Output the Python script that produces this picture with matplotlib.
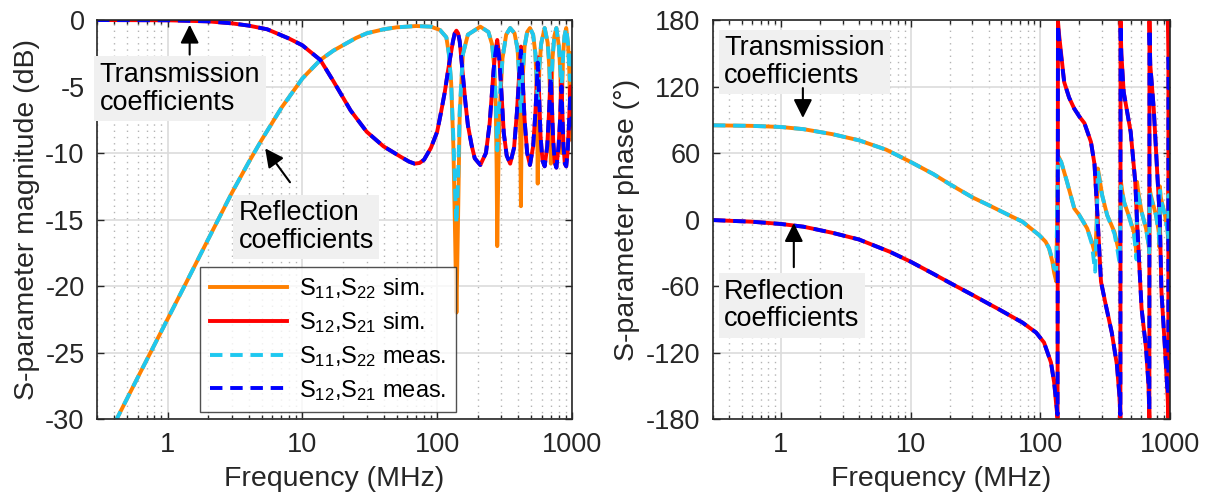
import numpy as np
import matplotlib
matplotlib.use('Agg')
import matplotlib.pyplot as plt
from matplotlib.ticker import FixedLocator, NullFormatter, LogLocator

plt.rcParams['font.family'] = ['Liberation Sans', 'DejaVu Sans']
plt.rcParams['mathtext.fontset'] = 'custom'
plt.rcParams['mathtext.rm'] = 'Liberation Sans'
plt.rcParams['mathtext.it'] = 'Liberation Sans'
plt.rcParams['axes.unicode_minus'] = False

# ---- magnitude, reflection (S11, S22) ----
f_refl_mag = [0.3, 0.42, 0.6, 1.0, 1.5, 2.0, 3.0, 4.0, 5.0, 7.0, 10, 13.6, 17, 20, 25, 30, 40,
              50, 70, 90, 105, 117, 122, 127, 132, 136, 139, 143, 147, 155, 169, 209, 240, 255,
              265, 272, 276, 279, 284, 290, 305, 325, 348, 375, 395, 405, 412, 418, 423, 430,
              445, 465, 488, 515, 535, 547, 553, 557, 562, 572, 590, 627, 660, 678, 690, 697,
              704, 718, 740, 766, 800, 820, 830, 836, 843, 860, 880, 906, 935, 955, 967, 975,
              983, 1000]
s11_mag_sim = [-33.0, -30.0, -26.9, -22.5, -19.0, -16.5, -13.0, -10.7, -9.0, -6.6, -4.4, -3.0,
               -2.3, -1.9, -1.35, -1.0, -0.7, -0.55, -0.45, -0.5, -0.75, -1.3, -2.5, -4.7,
               -9.6, -16.5, -22.0, -14.7, -7.1, -2.6, -1.1, -0.5, -0.9, -1.8, -3.5, -6.5,
               -10.9, -17.0, -11.5, -7.1, -2.9, -1.1, -0.6, -1.0, -2.2, -4.2, -7.5, -14.0,
               -8.5, -4.5, -2.0, -0.9, -0.6, -1.1, -2.5, -5.0, -8.0, -12.3, -7.5, -3.8, -1.8,
               -0.6, -1.7, -3.5, -6.5, -10.8, -6.0, -2.8, -1.2, -0.6, -2.0, -4.0, -7.0, -10.0,
               -6.0, -2.5, -1.2, -0.6, -1.8, -3.8, -6.5, -9.0, -5.5, -2.5]
s11_mag_meas = [-33.0, -30.0, -26.9, -22.5, -19.0, -16.5, -13.0, -10.7, -9.0, -6.6, -4.4, -3.0,
                -2.3, -1.9, -1.35, -1.0, -0.7, -0.55, -0.45, -0.5, -0.75, -1.3, -2.5, -4.7,
                -9.0, -13.0, -15.3, -12.0, -6.8, -2.6, -1.1, -0.5, -0.9, -1.8, -3.4, -6.0,
                -8.5, -9.8, -8.0, -6.0, -2.9, -1.1, -0.6, -1.0, -2.2, -4.0, -6.0, -7.0, -6.0,
                -4.0, -2.0, -0.9, -0.6, -1.1, -2.5, -4.3, -5.5, -6.0, -5.5, -3.5, -1.8, -0.6,
                -1.7, -3.2, -5.0, -5.2, -4.8, -2.8, -1.2, -0.6, -2.0, -3.7, -4.8, -4.8, -4.5,
                -2.5, -1.2, -0.6, -1.8, -3.5, -4.5, -4.5, -4.0, -2.5]

# ---- magnitude, transmission (S12, S21) ----
f_trans_mag = [0.3, 1, 2, 3, 4, 5.5, 8, 10, 13.6, 17, 22.8, 30, 40, 54, 62, 68, 74, 80, 90, 100,
               107, 114, 120, 126, 131, 135, 139, 143, 147, 155, 162, 169, 180, 190, 209, 230,
               245, 253, 262, 270, 279, 288, 298, 312, 328, 348, 372, 390, 405, 418, 430, 445,
               465, 488, 515, 535, 548, 557, 568, 585, 605, 627, 655, 675, 688, 697, 708, 725,
               745, 766, 795, 815, 828, 836, 846, 865, 885, 906, 930, 950, 965, 975, 985, 1000]
s21_mag_sim = [0.0, -0.02, -0.1, -0.25, -0.42, -0.7, -1.4, -1.9, -3.0, -4.6, -6.8, -8.4, -9.5,
               -10.3, -10.65, -10.8, -10.75, -10.5, -9.6, -8.4, -6.9, -5.4, -3.9, -2.6, -1.6,
               -1.0, -0.8, -1.0, -1.6, -4.1, -6.2, -7.9, -9.4, -10.4, -10.9, -10.0, -7.8, -5.9,
               -3.8, -2.4, -1.5, -2.6, -5.0, -8.5, -10.2, -10.8, -9.6, -7.0, -4.2, -2.0, -4.2,
               -7.5, -10.0, -10.9, -9.5, -7.0, -4.8, -2.8, -5.0, -8.8, -10.6, -11.0, -9.5,
               -7.0, -5.0, -3.8, -6.0, -9.0, -10.7, -11.1, -9.5, -7.5, -5.5, -4.5, -6.5, -9.5,
               -10.8, -11.0, -9.8, -7.8, -6.0, -5.0, -6.5, -8.0]
s21_mag_meas = [0.0, -0.02, -0.1, -0.25, -0.42, -0.7, -1.4, -1.9, -3.0, -4.6, -6.8, -8.4, -9.5,
                -10.3, -10.65, -10.8, -10.75, -10.5, -9.6, -8.4, -6.9, -5.4, -3.9, -2.6, -1.6,
                -1.0, -0.8, -1.0, -1.6, -4.1, -6.2, -7.9, -9.4, -10.4, -10.9, -10.0, -7.8,
                -5.9, -3.8, -2.5, -1.7, -2.8, -5.0, -8.5, -10.2, -10.8, -9.6, -7.0, -4.4, -2.3,
                -4.4, -7.5, -10.0, -10.9, -9.5, -7.0, -5.0, -3.2, -5.2, -8.8, -10.6, -11.0,
                -9.5, -7.0, -5.3, -4.3, -6.3, -9.0, -10.7, -11.1, -9.5, -7.6, -5.8, -5.0, -6.8,
                -9.5, -10.8, -11.0, -9.8, -7.8, -6.3, -5.5, -6.8, -8.0]

# ---- phase, reflection (S11, S22) ----
f_refl_ph = [0.3, 0.6, 1, 1.5, 2.5, 4, 6.5, 10, 15, 20, 30, 40, 55, 73, 98, 110, 117, 124, 128,
             133, 137, 145, 160, 183, 200, 230, 250, 265, 272, 278, 286, 300, 328, 374, 395,
             410, 414, 418, 428, 445, 480, 528, 545, 553, 557, 570, 604, 654, 683, 692, 697,
             712, 780, 820, 830, 836, 850, 915, 960, 970, 975, 985, 1000]
s11_ph_sim = [85.0, 84.5, 83.5, 81.5, 77.0, 71.5, 63.0, 52.0, 41.0, 32.0, 20.0, 13.0, 5.0, -2.0,
              -14.0, -20.0, -26.0, -38.0, -48.0, -56.0, 58.0, 52.0, 35.0, 10.0, 4.0, -8.0,
              -20.0, -32.0, -5.0, 46.0, 38.0, 22.0, 4.0, -11.5, -24.0, -32.0, 0.0, 35.0, 26.0,
              15.0, 4.0, -11.5, -25.0, -30.0, 34.0, 25.0, 7.0, -8.0, -22.0, -28.0, 28.0, 22.0,
              4.0, -11.0, -25.0, 30.0, 20.0, 4.0, -10.0, -22.0, 26.0, 20.0, 16.0]
s11_ph_meas = [85.0, 84.5, 83.5, 81.5, 77.0, 71.5, 63.0, 52.0, 41.0, 32.0, 20.0, 13.0, 5.0, -2.0,
               -14.0, -20.0, -26.0, -36.0, -44.0, -46.0, 56.0, 52.0, 35.0, 10.0, 4.0, -8.0,
               -22.0, -47.0, -10.0, 44.0, 36.0, 22.0, 4.0, -13.0, -28.0, -40.0, -5.0, 30.0,
               24.0, 15.0, 4.0, -13.0, -28.0, -36.0, 28.0, 22.0, 7.0, -8.0, -22.0, -30.0, 24.0,
               20.0, 4.0, -12.0, -24.0, 26.0, 18.0, 4.0, -10.0, -20.0, 22.0, 18.0, 14.0]

# ---- phase, transmission (S12, S21) ----
f_trans_ph = [0.3, 0.6, 1, 1.5, 2.5, 4, 6.9, 10, 15, 20, 30, 40, 48, 73, 93, 107, 121, 128, 133,
              136, 137, 140, 153, 167, 183, 200, 219, 246, 262, 276, 294, 320, 356, 390, 408,
              415, 416, 422, 440, 498, 540, 557, 580, 604, 654, 683, 694, 695, 705, 750, 800,
              836, 860, 915, 960, 972, 973, 985, 1000]
s21_ph_sim = [-0.5, -2.0, -4.0, -6.5, -12.0, -18.0, -29.0, -38.0, -49.0, -57.0, -68.0, -76.0,
              -81.0, -93.0, -102.0, -111.0, -129.0, -147.0, -168.0, -179.0, 179.0, 166.0, 124.0,
              110.0, 100.0, 93.0, 87.0, 70.0, 50.0, 4.0, -56.0, -77.0, -102.0, -131.0, -160.0,
              -179.0, 179.0, 150.0, 115.0, 79.0, 34.0, 0.0, -40.0, -80.0, -116.0, -150.0,
              -179.0, 179.0, 140.0, 100.0, 40.0, 0.0, -65.0, -116.0, -160.0, -179.0, 179.0,
              140.0, 112.0]
s21_ph_meas = [-0.5, -2.0, -4.0, -6.5, -12.0, -18.0, -29.0, -38.0, -49.0, -57.0, -68.0, -76.0,
               -81.0, -93.0, -102.0, -111.0, -129.0, -147.0, -165.0, -176.0, 176.0, 162.0,
               124.0, 110.0, 100.0, 93.0, 87.0, 70.0, 50.0, 4.0, -56.0, -77.0, -102.0, -131.0,
               -158.0, -176.0, 176.0, 148.0, 115.0, 79.0, 34.0, 0.0, -40.0, -80.0, -116.0,
               -148.0, -172.0, 172.0, 140.0, 100.0, 40.0, 0.0, -65.0, -116.0, -158.0, -150.0,
               150.0, 140.0, 112.0]

legend_labels = ['S$_{11}$,S$_{22}$ sim.', 'S$_{12}$,S$_{21}$ sim.',
                 'S$_{11}$,S$_{22}$ meas.', 'S$_{12}$,S$_{21}$ meas.']

C_ORANGE = '#ff8000'
C_RED = '#ff0000'
C_CYAN = '#1ec8f0'
C_BLUE = '#0000ff'
C_TEXT = '#262626'
LW = 2.8
DASH = (3.2, 2.0)


def style_axes(ax, ylim, yticks):
    ax.set_xscale('log')
    ax.set_xlim(0.3, 1000)
    ax.set_ylim(*ylim)
    ax.set_yticks(yticks)
    ax.xaxis.set_major_locator(FixedLocator([1, 10, 100, 1000]))
    ax.set_xticklabels(['1', '10', '100', '1000'])
    ax.xaxis.set_minor_locator(LogLocator(base=10, subs=np.arange(2, 10)))
    ax.xaxis.set_minor_formatter(NullFormatter())
    ax.tick_params(which='both', direction='in', top=True, right=True,
                   labelsize=19.5, colors=C_TEXT, width=1.0)
    ax.tick_params(which='major', length=5, pad=9)
    ax.tick_params(which='minor', length=3)
    ax.grid(True, which='major', color='#dcdcdc', lw=1.2, ls='-')
    ax.grid(True, which='minor', axis='x', color='#b4b4b4', lw=1.0, ls=(0, (1, 3.5)))
    ax.set_axisbelow(True)
    for s in ax.spines.values():
        s.set_color(C_TEXT)
        s.set_linewidth(1.2)
    ax.set_xlabel('Frequency (MHz)', fontsize=20.5, color=C_TEXT, labelpad=6)


def label_box(ax, x, y, text):
    ax.text(x, y, text, transform=ax.transAxes, ha='left', va='top', fontsize=19.5,
            color='k', linespacing=1.08,
            bbox=dict(boxstyle='square,pad=0.2', fc='#f0f0f0', ec='none'), zorder=6)


def arrow(ax, tip, tail):
    ax.annotate('', xy=tip, xytext=tail,
                arrowprops=dict(arrowstyle='-|>', color='k', lw=1.5, mutation_scale=28,
                                shrinkA=0, shrinkB=0), zorder=6)


fig = plt.figure(figsize=(12.08, 4.98), dpi=100)
ax1 = fig.add_axes([0.0803, 0.1586, 0.3932, 0.8012])
ax2 = fig.add_axes([0.5902, 0.1586, 0.3783, 0.8012])

# left: magnitude
l1, = ax1.plot(f_refl_mag, s11_mag_sim, color=C_ORANGE, lw=LW)
l2, = ax1.plot(f_trans_mag, s21_mag_sim, color=C_RED, lw=LW)
l3, = ax1.plot(f_refl_mag, s11_mag_meas, color=C_CYAN, lw=LW, ls='--', dashes=DASH)
l4, = ax1.plot(f_trans_mag, s21_mag_meas, color=C_BLUE, lw=LW, ls='--', dashes=DASH)
style_axes(ax1, (-30, 0), [-30, -25, -20, -15, -10, -5, 0])
ax1.set_ylabel('S-parameter magnitude (dB)', fontsize=20.5, color=C_TEXT, labelpad=4)

label_box(ax1, 0.006, 0.895, 'Transmission\ncoefficients')
arrow(ax1, (1.46, -0.35), (1.46, -2.6))
label_box(ax1, 0.298, 0.548, 'Reflection\ncoefficients')
arrow(ax1, (5.3, -9.65), (8.1, -12.2))

leg = ax1.legend([l1, l2, l3, l4], legend_labels, loc='lower left',
                 bbox_to_anchor=(0.217, 0.0175), fontsize=17, frameon=True, fancybox=False,
                 handlelength=3.3, handletextpad=0.5, labelspacing=0.38, borderpad=0.4,
                 borderaxespad=0)
leg.get_frame().set_edgecolor(C_TEXT)
leg.get_frame().set_linewidth(1.0)
leg.set_zorder(7)

# right: phase
ax2.plot(f_refl_ph, s11_ph_sim, color=C_ORANGE, lw=LW)
ax2.plot(f_trans_ph, s21_ph_sim, color=C_RED, lw=LW)
ax2.plot(f_refl_ph, s11_ph_meas, color=C_CYAN, lw=LW, ls='--', dashes=DASH)
ax2.plot(f_trans_ph, s21_ph_meas, color=C_BLUE, lw=LW, ls='--', dashes=DASH)
style_axes(ax2, (-180, 180), [-180, -120, -60, 0, 60, 120, 180])
ax2.set_ylabel('S-parameter phase (°)', fontsize=20.5, color=C_TEXT, labelpad=4)

label_box(ax2, 0.024, 0.962, 'Transmission\ncoefficients')
arrow(ax2, (1.48, 91.6), (1.48, 118.6))
label_box(ax2, 0.024, 0.352, 'Reflection\ncoefficients')
arrow(ax2, (1.26, -3.2), (1.26, -43))

fig.savefig('out.png', dpi=100)
